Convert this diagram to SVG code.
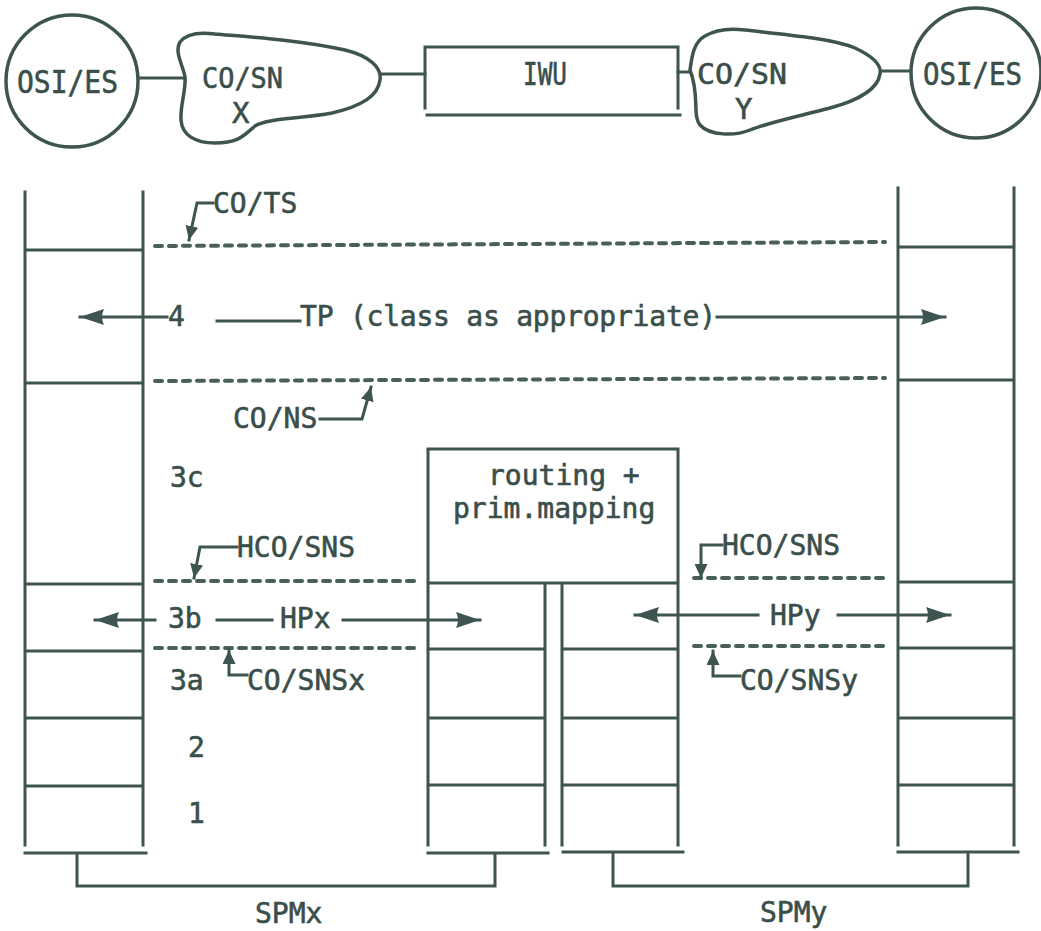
<svg xmlns="http://www.w3.org/2000/svg" width="1041" height="931" viewBox="0 0 1041 931">
<style>
.ln{stroke:#3e5450;stroke-width:3;fill:none;stroke-linecap:square}
.dash{stroke:#4a5f5a;stroke-width:4;fill:none;stroke-linecap:round;stroke-dasharray:7 7}
.t{font-family:"DejaVu Sans Mono","Liberation Mono",monospace;font-size:28px;fill:#3a4e4a;stroke:#3a4e4a;stroke-width:0.6}
.tt{font-family:"DejaVu Sans Mono","Liberation Mono",monospace;font-size:32px;fill:#3a4e4a;stroke:#3a4e4a;stroke-width:0.6}
.tc{font-family:"DejaVu Sans Mono","Liberation Mono",monospace;font-size:29px;fill:#3a4e4a;stroke:#3a4e4a;stroke-width:0.6}
.shape{stroke:#3e5450;stroke-width:3.5;fill:#fff}
</style>
<defs>
<marker id="big" markerUnits="userSpaceOnUse" markerWidth="26" markerHeight="20" refX="24" refY="10" orient="auto"><path d="M0,2 L24,10 L0,18 Q4,10 0,2 Z" fill="#3e5450"/></marker>
<marker id="sm" markerUnits="userSpaceOnUse" markerWidth="15" markerHeight="13" refX="14" refY="6.5" orient="auto"><path d="M0,0 L14,6.5 L0,13 Z" fill="#3e5450"/></marker>
</defs>
<rect width="1041" height="931" fill="#fff"/>

<g id="connectors">
<path class="ln" d="M138,78 H185"/>
<path class="ln" d="M380,74 H425"/>
<path class="ln" d="M678,72 H691"/>
<path class="ln" d="M880,71 H912"/>
</g>

<g id="osi-es-left"><circle class="shape" cx="72" cy="81" r="66"/><text class="tt" x="17" y="93" textLength="101" lengthAdjust="spacingAndGlyphs">OSI/ES</text></g>
<g id="co-sn-x"><path class="shape" d="M185,77 C183,65 174,52 180,42 C186,34 200,32 215,34 C250,37 300,40 345,50 C370,56 382,68 380,80 C378,96 362,106 332,113 C300,119 268,118 255,126 C245,134 240,143 215,143 C195,143 182,135 181,120 C180,105 186,92 185,77 Z"/><text class="tc" x="202" y="88" textLength="81" lengthAdjust="spacingAndGlyphs">CO/SN</text><text class="tc" x="232" y="123">X</text></g>
<g id="iwu"><path class="ln" d="M425,108 V47 H678 V108 M427,115 H680"/><text class="tt" x="523" y="85" textLength="44" lengthAdjust="spacingAndGlyphs">IWU</text></g>
<g id="co-sn-y"><path class="shape" d="M690,70 C692,55 694,42 705,36 C715,30 730,28 745,30 C780,34 830,38 855,48 C872,56 882,65 880,74 C878,88 860,100 830,108 C800,116 770,122 750,130 C735,136 710,136 700,125 C692,115 700,95 690,70 Z"/><text class="tc" x="697" y="84" textLength="90" lengthAdjust="spacingAndGlyphs">CO/SN</text><text class="tc" x="735" y="119">Y</text></g>
<g id="osi-es-right"><circle class="shape" cx="976" cy="73" r="65"/><text class="tt" x="923" y="85" textLength="99" lengthAdjust="spacingAndGlyphs">OSI/ES</text></g>

<g id="stack-left"><path class="ln" d="M25,192 V845 M143,192 V845 M25,250 H143 M25,383 H143 M25,584 H143 M25,651 H143 M25,718 H143 M25,786 H143"/></g>
<g id="stack-right"><path class="ln" d="M898,188 V845 M1014,188 V845 M898,247 H1014 M898,380 H1014 M898,582 H1014 M898,648 H1014 M898,718 H1014 M898,785 H1014"/></g>
<g id="routing-box"><path class="ln" d="M428,845 V449 H678 V845 M428,583 H678 M545,583 V845 M562,583 V845 M428,649 H545 M428,718 H545 M428,785 H545 M562,649 H678 M562,718 H678 M562,785 H678"/><text class="t" x="488" y="485">routing +</text><text class="t" x="453" y="518">prim.mapping</text></g>

<g id="service-lines">
<path class="dash" d="M155,246 L885,242"/>
<path class="dash" d="M155,381 L885,378"/>
<path class="dash" d="M155,581 H417 M694,578 H887"/>
<path class="dash" d="M155,648 H417 M694,646 H887"/>
</g>

<g id="arrows">
<path class="ln" d="M167,317 H80" marker-end="url(#big)"/>
<path class="ln" d="M217,321 H300"/>
<path class="ln" d="M717,317 H945" marker-end="url(#big)"/>
<path class="ln" d="M155,620 H95" marker-end="url(#big)"/>
<path class="ln" d="M217,620 H272"/>
<path class="ln" d="M343,620 H480" marker-end="url(#big)"/>
<path class="ln" d="M758,615 H635" marker-end="url(#big)"/>
<path class="ln" d="M838,615 H950" marker-end="url(#big)"/>
<path class="ln" d="M213,203 H197 L189,240" marker-end="url(#sm)"/>
<path class="ln" d="M320,419 H362 L371,387" marker-end="url(#sm)"/>
<path class="ln" d="M237,547 H200 L194,578" marker-end="url(#sm)"/>
<path class="ln" d="M247,675 H229 V650" marker-end="url(#sm)"/>
<path class="ln" d="M722,545 H701 V578" marker-end="url(#sm)"/>
<path class="ln" d="M740,676 H713 V651" marker-end="url(#sm)"/>
</g>

<g id="labels">
<text class="t" x="213" y="213">CO/TS</text>
<text class="t" x="168" y="326">4</text>
<text class="t" x="300" y="326" textLength="416">TP (class as appropriate)</text>
<text class="t" x="233" y="428">CO/NS</text>
<text class="t" x="170" y="487">3c</text>
<text class="t" x="237" y="557">HCO/SNS</text>
<text class="t" x="722" y="555">HCO/SNS</text>
<text class="t" x="168" y="628">3b</text>
<text class="t" x="280" y="628">HPx</text>
<text class="t" x="770" y="625">HPy</text>
<text class="t" x="170" y="690">3a</text>
<text class="t" x="247" y="690">CO/SNSx</text>
<text class="t" x="740" y="690">CO/SNSy</text>
<text class="t" x="188" y="757">2</text>
<text class="t" x="188" y="823">1</text>
</g>

<g id="spm">
<path class="ln" d="M25,853 H146 M77,853 V886 H495 V853 M428,853 H548 M563,852 H683 M613,852 V886 H968 V852 M898,852 H1018"/>
<text class="t" x="255" y="923">SPMx</text>
<text class="t" x="760" y="922">SPMy</text>
</g>
</svg>
